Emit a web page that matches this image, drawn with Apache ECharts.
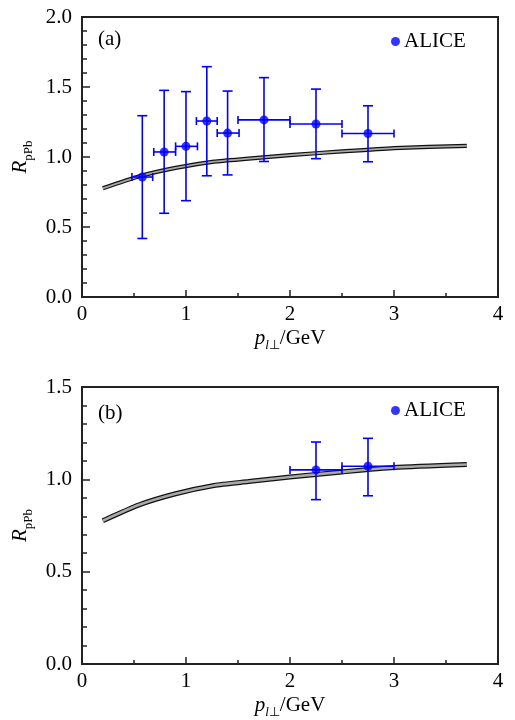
<!DOCTYPE html>
<html>
<head>
<meta charset="utf-8">
<script src="https://cdn.jsdelivr.net/npm/echarts@6/dist/echarts.min.js"></script>
<style>html,body{margin:0;padding:0;background:#fff}#c{width:515px;height:720px}</style>
</head>
<body>
<div id="c"></div>
<script>
// ---- data ----
const xTicks = [0, 1, 2, 3, 4];
// theory band (center line)
const curveX = [0.2, 0.55, 0.9, 1.27, 1.6, 2.0, 2.5, 3.0, 3.7];
const curveY = [0.776, 0.862, 0.922, 0.967, 0.988, 1.013, 1.040, 1.064, 1.080];
// panel (a) ALICE
const aX     = [0.58, 0.79, 1.0, 1.2, 1.4, 1.75, 2.25, 2.75];
const aY     = [0.857, 1.036, 1.076, 1.257, 1.171, 1.265, 1.236, 1.168];
const aYLow  = [0.418, 0.598, 0.688, 0.866, 0.872, 0.968, 0.988, 0.966];
const aYHigh = [1.295, 1.476, 1.467, 1.645, 1.471, 1.567, 1.485, 1.366];
const aXLow  = [0.48, 0.69, 0.9, 1.1, 1.3, 1.5, 2.0, 2.5];
const aXHigh = [0.68, 0.9, 1.11, 1.3, 1.51, 2.0, 2.5, 3.0];
// panel (b) ALICE
const bX     = [2.25, 2.75];
const bY     = [1.051, 1.071];
const bYLow  = [0.890, 0.911];
const bYHigh = [1.202, 1.222];
const bXLow  = [2.0, 2.5];
const bXHigh = [2.5, 3.0];

// ---- build ----
const BLUE = '#0000ff';
const AX = '#222';
const FONT = 'Liberation Serif';
const curve = curveX.map((x, i) => [x, curveY[i]]);
const pts = (X, Y) => X.map((x, i) => [x, Y[i]]);
const errs = (X, Y, yl, yh, xl, xh) => X.map((x, i) => [x, Y[i], yl[i], yh[i], xl[i], xh[i]]);

function errRender(params, api) {
  const x = api.value(0), y = api.value(1);
  const pl = api.coord([x, api.value(2)]);
  const ph = api.coord([x, api.value(3)]);
  const ql = api.coord([api.value(4), y]);
  const qh = api.coord([api.value(5), y]);
  const cw = 5, ch = 4;
  const st = { stroke: BLUE, lineWidth: 1.6 };
  const L = (x1, y1, x2, y2) => ({ type: 'line', shape: { x1, y1, x2, y2 }, style: st });
  return {
    type: 'group',
    children: [
      L(pl[0], pl[1], ph[0], ph[1]),
      L(pl[0] - cw, pl[1], pl[0] + cw, pl[1]),
      L(ph[0] - cw, ph[1], ph[0] + cw, ph[1]),
      L(ql[0], ql[1], qh[0], qh[1]),
      L(ql[0], ql[1] - ch, ql[0], ql[1] + ch),
      L(qh[0], qh[1] - ch, qh[0], qh[1] + ch)
    ]
  };
}

const labelStyle = { color: '#000', fontFamily: FONT, fontSize: 21 };
const richName = {
  i: { fontFamily: FONT, fontSize: 21, fontStyle: 'italic', color: '#000', lineHeight: 28, verticalAlign: 'middle' },
  n: { fontFamily: FONT, fontSize: 21, color: '#000', lineHeight: 28, verticalAlign: 'middle' },
  s: { fontFamily: FONT, fontSize: 13, color: '#000', lineHeight: 13, verticalAlign: 'bottom' },
  si: { fontFamily: FONT, fontSize: 13, fontStyle: 'italic', color: '#000', lineHeight: 13, verticalAlign: 'bottom' }
};

function xAxis(gi) {
  return {
    gridIndex: gi, type: 'value', min: 0, max: 4, interval: 1,
    axisLine: { show: true, onZero: false, lineStyle: { color: AX, width: 2 } },
    axisTick: { show: true, inside: true, length: 7, lineStyle: { color: AX, width: 1.5 } },
    minorTick: { show: true, splitNumber: 2, length: 4, lineStyle: { color: AX, width: 1.5 } },
    splitLine: { show: false },
    axisLabel: Object.assign({ margin: 7 }, labelStyle),
    name: '{i|p}{si|l}{s|⊥}{n|/GeV}', nameLocation: 'middle', nameGap: 27,
    nameTextStyle: { rich: richName }
  };
}
function yAxis(gi, max) {
  return {
    gridIndex: gi, type: 'value', min: 0, max: max, interval: 0.5,
    axisLine: { show: true, onZero: false, lineStyle: { color: AX, width: 2 } },
    axisTick: { show: true, inside: true, length: 8, lineStyle: { color: AX, width: 1.5 } },
    minorTick: { show: true, splitNumber: 5, length: 5, lineStyle: { color: AX, width: 1.5 } },
    splitLine: { show: false },
    axisLabel: Object.assign({ margin: 10, formatter: v => v.toFixed(1) }, labelStyle),
    name: '{i|R}{s|pPb}', nameLocation: 'middle', nameGap: 38,
    nameTextStyle: { rich: richName }
  };
}

function panelSeries(gi, P, E) {
  return [
    { type: 'line', name: 'band-edge' + gi, xAxisIndex: gi, yAxisIndex: gi, data: curve, symbol: 'none', smooth: 0.2,
      lineStyle: { color: '#111', width: gi === 0 ? 4.2 : 5 }, z: 2, silent: true },
    { type: 'line', name: 'band-fill' + gi, xAxisIndex: gi, yAxisIndex: gi, data: curve, symbol: 'none', smooth: 0.2,
      lineStyle: { color: '#a8a8a8', width: gi === 0 ? 1.8 : 2.6 }, z: 3, silent: true },
    { type: 'custom', name: 'err' + gi, xAxisIndex: gi, yAxisIndex: gi, data: E, renderItem: errRender, z: 4, silent: true },
    { type: 'scatter', name: 'ALICE', xAxisIndex: gi, yAxisIndex: gi, data: P, symbol: 'circle', symbolSize: 9,
      itemStyle: { color: BLUE }, z: 5 }
  ];
}

const legendBase = {
  data: [{ name: 'ALICE', icon: 'circle' }], orient: 'horizontal', left: 391, padding: 0,
  itemWidth: 9, itemHeight: 9, itemGap: 5,
  textStyle: { fontFamily: FONT, fontSize: 21, color: '#000', padding: [0, 0, 0, -1] }
};

const option = {
  animation: false,
  backgroundColor: '#fff',
  grid: [
    { left: 82, top: 17, width: 416, height: 280, show: true, borderColor: AX, borderWidth: 2, backgroundColor: 'transparent' },
    { left: 82, top: 387, width: 416, height: 279, show: true, borderColor: AX, borderWidth: 2, backgroundColor: 'transparent' }
  ],
  xAxis: [xAxis(0), xAxis(1)],
  yAxis: [yAxis(0, 2), yAxis(1, 1.5)],
  legend: [
    Object.assign({ top: 31 }, legendBase),
    Object.assign({ top: 400 }, legendBase)
  ],
  graphic: [
    { type: 'text', left: 98, top: 29, style: { text: '(a)', font: '21px "Liberation Serif"', fill: '#000' } },
    { type: 'text', left: 98, top: 403, style: { text: '(b)', font: '21px "Liberation Serif"', fill: '#000' } }
  ],
  series: [].concat(
    panelSeries(0, pts(aX, aY), errs(aX, aY, aYLow, aYHigh, aXLow, aXHigh)),
    panelSeries(1, pts(bX, bY), errs(bX, bY, bYLow, bYHigh, bXLow, bXHigh))
  )
};

const chart = echarts.init(document.getElementById('c'), null, { renderer: 'canvas' });
chart.setOption(option);
</script>
</body>
</html>
